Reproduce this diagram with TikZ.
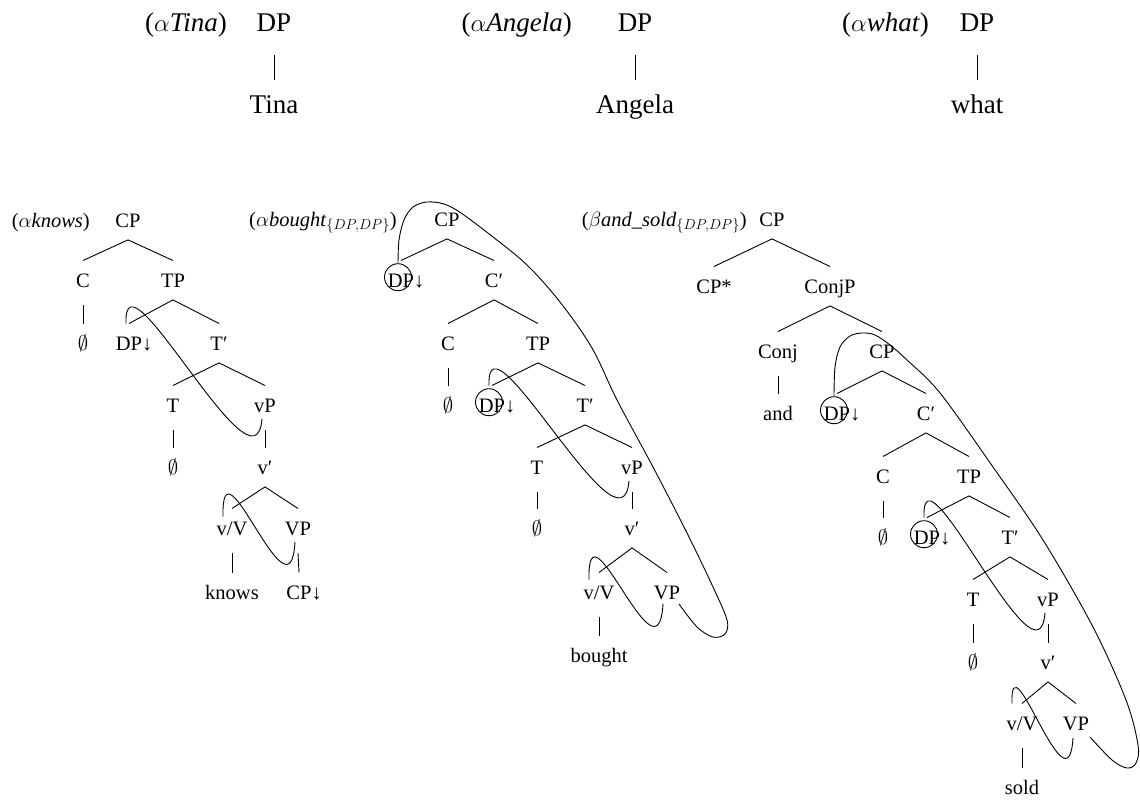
\documentclass[tikz,border=0pt]{standalone}
\usepackage{fontspec}
\setmainfont{Liberation Serif}
\usetikzlibrary{calc}
\begin{document}
\begin{tikzpicture}[x=1pt,y=-1pt,
  t/.style={font=\fontsize{20.5}{24}\selectfont, anchor=base, text height=13.6pt, text depth=0pt, inner xsep=0pt, inner ysep=12.7pt},
  lab/.style={font=\fontsize{20.5}{24}\selectfont, anchor=base east, inner sep=0pt},
  tt/.style={font=\fontsize{27}{30}\selectfont, anchor=base, text height=17.9pt, text depth=0pt, inner xsep=0pt, inner ysep=15pt},
  tlab/.style={font=\fontsize{27}{30}\selectfont, anchor=base east, inner sep=0pt},
  edge/.style={line width=0.9pt},
  mv/.style={line width=0.9pt},
  circ/.style={line width=0.9pt}]
\useasboundingbox (0,0) rectangle (1140,800);

% ---------- top row ----------
\node[tlab] (lTina) at (227,32) {($\alpha$\textit{Tina})};
\node[tt] (dpTina) at (274,32) {DP};
\node[tt] (Tina) at (274,113) {Tina};
\draw[edge] ([yshift=-8pt]dpTina.south) -- (Tina.north);

\node[tlab] (lAngela) at (572,32) {($\alpha$\textit{Angela})};
\node[tt] (dpAngela) at (635,32) {DP};
\node[tt] (Angela) at (635,113) {Angela};
\draw[edge] ([yshift=-8pt]dpAngela.south) -- (Angela.north);

\node[tlab] (lwhat) at (929,32) {($\alpha$\textit{what})};
\node[tt] (dpwhat) at (977,32) {DP};
\node[tt] (what) at (977,113) {what};
\draw[edge] ([yshift=-8pt]dpwhat.south) -- (what.north);

% ---------- left tree: knows ----------
\node[lab] (lknows) at (90,227) {($\alpha$\textit{knows})};
\node[t] (CP1) at (128,227) {CP};
\node[t] (C1) at (83,287) {C};
\node[t] (TP1) at (173,287) {TP};
\node[t] (e1) at (83,350) {$\emptyset$};
\node[t] (DP1) at (129,350) {DP\rlap{↓}};
\node[t] (Tb1) at (219,350) {T′};
\node[t] (T1) at (173,412) {T};
\node[t] (vP1) at (265,412) {vP};
\node[t] (e2) at (173,474) {$\emptyset$};
\node[t] (vb1) at (265,474) {v′};
\node[t] (vV1) at (232,535) {v/V};
\node[t] (VP1) at (298,535) {VP};
\node[t] (knows) at (232,599) {knows};
\node[t] (CPd1) at (299,599) {CP\rlap{↓}};

\draw[edge] (C1.north) -- (CP1.south) -- (TP1.north);
\draw[edge] ([yshift=-5pt]C1.south) -- (e1.north);
\draw[edge] (DP1.north) -- (TP1.south) -- (Tb1.north);
\draw[edge] (T1.north) -- (Tb1.south) -- (vP1.north);
\draw[edge] ([yshift=-5pt]T1.south) -- (e2.north);
\draw[edge] ([yshift=-5pt]vP1.south) -- (vb1.north);
\draw[edge] (vV1.north) -- (vb1.south) -- (VP1.north);
\draw[edge] ([yshift=-5pt]vV1.south) -- (knows.north);
\draw[edge] ([yshift=-5pt]VP1.south) -- (CPd1.north);

\draw[mv] ([xshift=-3pt]DP1.north) .. controls +(-3,-84) and +(-7,85) .. ([xshift=-3pt,yshift=6pt]vP1.south);
\draw[mv] ([xshift=-9pt,yshift=-8pt]vV1.north) .. controls +(-2,-87) and +(-5,87) .. ([xshift=-3pt,yshift=6pt]VP1.south);

% ---------- middle tree: bought ----------
\node[lab] (lbought) at (397,226) {($\alpha$\textit{bought}$_{\{DP,DP\}}$)};
\node[t] (CP2) at (447,226) {CP};
\node[t] (DP2) at (401,287) {DP\rlap{↓}};
\node[t] (Cb2) at (494,287) {C′};
\node[t] (C2) at (448,350) {C};
\node[t] (TP2) at (538,350) {TP};
\node[t] (e3) at (448,412) {$\emptyset$};
\node[t] (DP3) at (492,412) {DP\rlap{↓}};
\node[t] (Tb2) at (585,412) {T′};
\node[t] (T2) at (537,474) {T};
\node[t] (vP2) at (632,474) {vP};
\node[t] (e4) at (537,535) {$\emptyset$};
\node[t] (vb2) at (632,535) {v′};
\node[t] (vV2) at (599,599) {v/V};
\node[t] (VP2) at (667,599) {VP};
\node[t] (bought) at (599,662) {bought};

\draw[edge] (DP2.north) -- (CP2.south) -- (Cb2.north);
\draw[edge] (C2.north) -- (Cb2.south) -- (TP2.north);
\draw[edge] ([yshift=-5pt]C2.south) -- (e3.north);
\draw[edge] (DP3.north) -- (TP2.south) -- (Tb2.north);
\draw[edge] (T2.north) -- (Tb2.south) -- (vP2.north);
\draw[edge] ([yshift=-5pt]T2.south) -- (e4.north);
\draw[edge] ([yshift=-5pt]vP2.south) -- (vb2.north);
\draw[edge] (vV2.north) -- (vb2.south) -- (VP2.north);
\draw[edge] ([yshift=-5pt]vV2.south) -- (bought.north);

\draw[circ] ([xshift=-3pt,yshift=3pt]DP2.center) circle[radius=13.5pt];
\draw[circ] ([xshift=-3pt,yshift=3pt]DP3.center) circle[radius=13.5pt];

\draw[mv] ([xshift=-3pt]DP3.north) .. controls +(-3,-84) and +(-7,85) .. ([xshift=-3pt,yshift=6pt]vP2.south);
\draw[mv] ([xshift=-10pt,yshift=-7pt]vV2.north) .. controls +(-2,-87) and +(-5,87) .. ([xshift=-4pt,yshift=8pt]VP2.south);
\draw[mv] plot[smooth, tension=0.55] coordinates {(398,263) (399,240) (404,220) (413,207) (427,202) (444,204) (461,213) (493,237) (527,265) (560,302) (592,348) (617,400) (653,467) (687,533) (713,587) (727,620) (725,634) (713,637) (697,627) (679,604)};

% ---------- right tree: and_sold ----------
\node[lab] (lsold) at (747,226) {($\beta$\textit{and\_sold}$_{\{DP,DP\}}$)};
\node[t] (CP3) at (772,226) {CP};
\node[t] (CPs) at (714,293) {CP*};
\node[t] (ConjP) at (830,293) {ConjP};
\node[t] (Conj) at (778,358) {Conj};
\node[t] (CP4) at (882,358) {CP};
\node[t] (and) at (778,420) {and};
\node[t] (DP4) at (837,420) {DP\rlap{↓}};
\node[t] (Cb3) at (926,420) {C′};
\node[t] (C3) at (883,483) {C};
\node[t] (TP3) at (969,483) {TP};
\node[t] (e5) at (883,544) {$\emptyset$};
\node[t] (DP5) at (927,544) {DP\rlap{↓}};
\node[t] (Tb3) at (1010,544) {T′};
\node[t] (T3) at (973,606) {T};
\node[t] (vP3) at (1048,606) {vP};
\node[t] (e6) at (973,669) {$\emptyset$};
\node[t] (vb3) at (1048,669) {v′};
\node[t] (vV3) at (1022,730) {v/V};
\node[t] (VP3) at (1076,730) {VP};
\node[t] (sold) at (1022,794) {sold};

\draw[edge] (CPs.north) -- (CP3.south) -- (ConjP.north);
\draw[edge] (Conj.north) -- (ConjP.south) -- (CP4.north);
\draw[edge] ([yshift=-5pt]Conj.south) -- (and.north);
\draw[edge] (DP4.north) -- (CP4.south) -- (Cb3.north);
\draw[edge] (C3.north) -- (Cb3.south) -- (TP3.north);
\draw[edge] ([yshift=-5pt]C3.south) -- (e5.north);
\draw[edge] (DP5.north) -- (TP3.south) -- (Tb3.north);
\draw[edge] (T3.north) -- (Tb3.south) -- (vP3.north);
\draw[edge] ([yshift=-5pt]T3.south) -- (e6.north);
\draw[edge] ([yshift=-5pt]vP3.south) -- (vb3.north);
\draw[edge] (vV3.north) -- (vb3.south) -- (VP3.north);
\draw[edge] ([yshift=-5pt]vV3.south) -- (sold.north);

\draw[circ] ([xshift=-3pt,yshift=3pt]DP4.center) circle[radius=13.5pt];
\draw[circ] ([xshift=-3pt,yshift=3pt]DP5.center) circle[radius=13.5pt];

\draw[mv] ([xshift=-3pt]DP5.north) .. controls +(-3,-84) and +(-7,85) .. ([xshift=-3pt,yshift=6pt]vP3.south);
\draw[mv] ([xshift=-10pt]vV3.north) .. controls +(-2,-70) and +(-5,80) .. ([xshift=-3pt,yshift=5pt]VP3.south);
\draw[mv] plot[smooth, tension=0.55] coordinates {(834,396) (835,367) (840,347) (850,336) (862,333) (875,335) (890,345) (907,360) (940,393) (993,467) (1043,540) (1093,627) (1126,700) (1138,745) (1136,763) (1127,768) (1112,760) (1090,737)};
\end{tikzpicture}
\end{document}
